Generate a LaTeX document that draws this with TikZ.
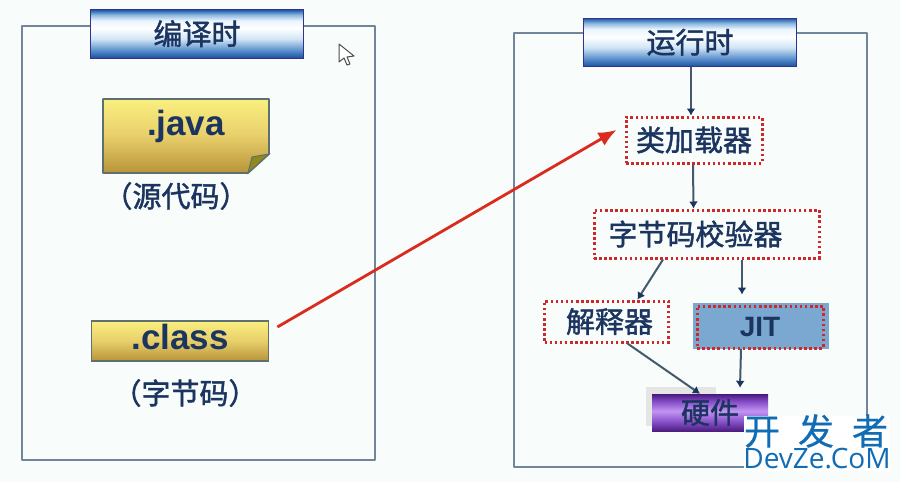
\documentclass[tikz,border=0pt]{standalone}
\usepackage{fontspec}
\setmainfont{Liberation Sans}
\newfontfamily\cjk[FakeBold=1.5]{Noto Sans CJK SC}
\newfontfamily\cjkw[FakeBold=0.5]{Noto Sans CJK SC}
\newfontfamily\wm{Open Sans}
\usetikzlibrary{arrows.meta}
\definecolor{pagebg}{HTML}{F8FCFA}
\definecolor{framec}{HTML}{71869A}
\definecolor{inkc}{HTML}{1B3560}
\definecolor{wmc}{HTML}{0F6CB5}
\definecolor{dotc}{HTML}{CC2A2A}
\definecolor{arrowc}{HTML}{44586E}
\definecolor{redc}{HTML}{DB2A1E}
\definecolor{edgec}{HTML}{5E7070}
\pgfdeclareverticalshading{hdrshade}{100bp}{
 rgb(0bp)=(0.10,0.32,0.62); rgb(25bp)=(0.10,0.32,0.62); rgb(33bp)=(0.35,0.56,0.80); rgb(45bp)=(0.82,0.90,0.96);
 rgb(56bp)=(1,1,1); rgb(64bp)=(0.92,0.96,0.99); rgb(70bp)=(0.55,0.72,0.88); rgb(75bp)=(0.12,0.36,0.66); rgb(100bp)=(0.12,0.36,0.66)}
\pgfdeclareverticalshading{goldshade}{100bp}{
 rgb(0bp)=(0.72,0.58,0.22); rgb(25bp)=(0.72,0.58,0.22); rgb(50bp)=(0.91,0.81,0.42);
 rgb(75bp)=(0.98,0.94,0.50); rgb(100bp)=(0.98,0.94,0.50)}
\pgfdeclareverticalshading{purpshade}{100bp}{
 rgb(0bp)=(0.30,0.12,0.50); rgb(25bp)=(0.30,0.12,0.50); rgb(37bp)=(0.52,0.30,0.78); rgb(52bp)=(0.76,0.58,0.95);
 rgb(66bp)=(0.50,0.28,0.76); rgb(75bp)=(0.28,0.10,0.48); rgb(100bp)=(0.28,0.10,0.48)}
\tikzset{
 x=1pt,y=-1pt,
 frame/.style={draw=framec,line width=2.4pt,line join=round},
 txt/.style={text=inkc,inner sep=0pt,font=\cjk\fontsize{29}{30}\selectfont},
 latin/.style={text=inkc,inner sep=0pt,font=\bfseries\fontsize{35}{36}\selectfont},
 hdr/.style={draw=none,minimum width=212pt,minimum height=48pt,inner sep=0pt,shading=hdrshade,text=inkc,font=\cjk\fontsize{29}{30}\selectfont},
 dotbox/.style={draw=dotc,line width=3pt,dash pattern=on 2.5pt off 2.6pt,fill=pagebg,inner sep=0pt,text=inkc,font=\cjk\fontsize{29}{30}\selectfont},
 goldbox/.style={draw=edgec,line width=1.8pt,shading=goldshade,inner sep=0pt},
 flow/.style={draw=arrowc,line width=2pt,-{Latex[length=7pt,width=9pt,color=inkc]}},
}
\begin{document}
\begin{tikzpicture}
\useasboundingbox (0,0) rectangle (900,482);
\fill[pagebg] (0,0) rectangle (900,482);
% frames
\draw[frame] (22,26) rectangle (375,460);
\draw[frame] (514,33) rectangle (867,467);
% headers
\node[hdr] (hleft) at (197,34) {\raisebox{3pt}{编译时}};
\node[hdr] (hright) at (690,42.5) {\raisebox{3pt}{运行时}};
\draw[blue!45!black!80,line width=1pt] (hleft.south west) rectangle (hleft.north east);
\draw[blue!45!black!80,line width=1pt] (hright.south west) rectangle (hright.north east);
% java
\path[shading=goldshade,draw=edgec,line width=1.8pt,line join=round]
  (103,99) -- (269,99) -- (269,154) -- (248,173) -- (103,173) -- cycle;
\path[fill=olive!75!yellow!80!black,draw=edgec,line width=1pt] (269,154) -- (252,157) -- (248,173) -- cycle;
\node[latin] (java) at (186,126) {.java};
\node[txt] (srcl) at (176,196) {（源代码）};
% class
\node[goldbox,minimum width=177pt,minimum height=40pt] (class) at (180,341) {};
\node[latin] (classt) at (180,337) {.class};
\node[txt] (bytel) at (185,393) {（字节码）};
% flow nodes
\node[dotbox,minimum width=136pt,minimum height=46pt] (loader) at (694,140) {类加载器};
\node[dotbox,minimum width=225pt,minimum height=48pt] (verif) at (706.5,234) {字节码校验器\hspace{22pt}\mbox{}};
\node[dotbox,minimum width=124pt,minimum height=41pt] (interp) at (606.5,321.5) {\hspace{6pt}解释器};
\fill[black!10] (646,387) rectangle (716,426);
\node[minimum width=136pt,minimum height=46pt,fill=blue!30!gray!75!cyan!70!white,inner sep=0pt] (jitbg) at (761,326) {};
\node[dotbox,fill=none,minimum width=126pt,minimum height=42pt,font=\bfseries\fontsize{28}{30}\selectfont] (jit) at (760,327) {JIT};
\node[minimum width=116pt,minimum height=37pt,shading=purpshade,inner sep=0pt,text=inkc,font=\cjk\fontsize{29}{30}\selectfont] (hw) at (710,412.5) {硬件};
% connectors
\draw[flow] ([xshift=1pt]hright.south) -- ([xshift=-3pt]loader.north);
\draw[flow] ([xshift=-1pt]loader.south) -- ([xshift=-13pt]verif.north);
\draw[flow] ([xshift=-43.5pt]verif.south) -- ([xshift=31pt]interp.north);
\draw[flow] ([xshift=35.5pt]verif.south) -- ([xshift=-18pt,yshift=10pt]jit.north);
\draw[flow] ([xshift=-20pt]jitbg.south) -- ([xshift=30pt,yshift=6pt]hw.north);
\draw[flow] ([xshift=21pt]interp.south) -- ([xshift=-10pt]hw.north);
\draw[draw=redc,line width=2.8pt,-{Latex[length=18pt,width=15pt]}] ([xshift=8pt,yshift=14pt]class.east) -- ([xshift=-8pt,yshift=10pt]loader.west);
% pointer
\path[fill=white,draw=black!70,line width=1pt,line join=round] (339,44) -- (339,62) -- (344,58) -- (347,65) -- (350,64) -- (347,57) -- (354,56) -- cycle;
% watermark
\fill[white] (744,416) rectangle (890,471);
\node[inner sep=0pt,text=wmc,font=\cjkw\fontsize{36}{38}\selectfont] (wm1) at (816,431) {开\hspace{18pt}发\hspace{18pt}者};
\node[inner sep=0pt,text=wmc,font=\wm\fontsize{28}{29}\selectfont] (wm2) at (817,459) {DevZe.CoM};
\end{tikzpicture}
\end{document}
